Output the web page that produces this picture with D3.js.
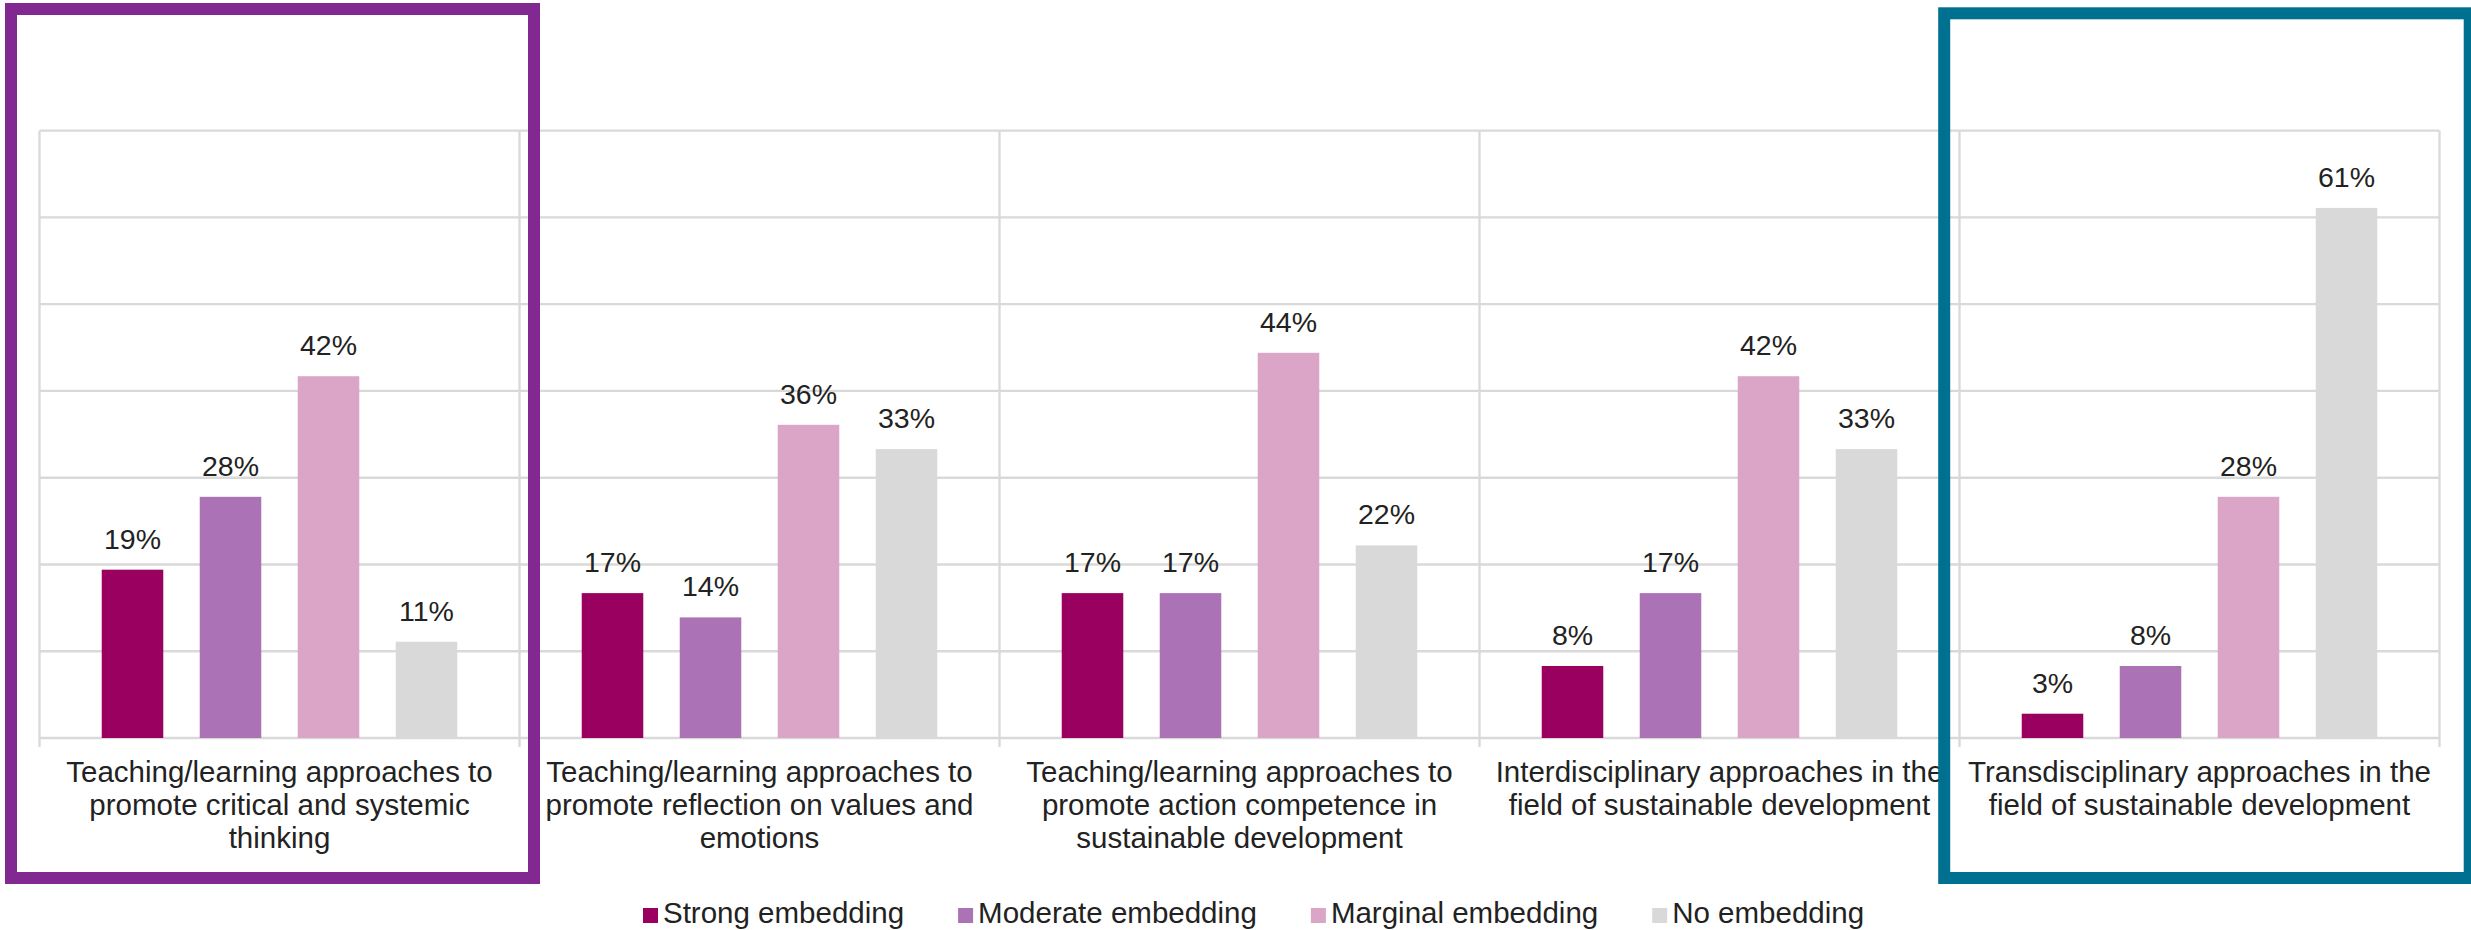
<!DOCTYPE html>
<html>
<head>
<meta charset="utf-8">
<script src="https://cdn.jsdelivr.net/npm/d3@7"></script>
<style>
  body { margin: 0; background: #fff; }
  text { font-family: 'Liberation Sans', Arial, sans-serif; fill: #222; }
</style>
</head>
<body>
<script>
// category labels, already wrapped the way the original shows them
const categories = [
  ['Teaching/learning approaches to', 'promote critical and systemic', 'thinking'],
  ['Teaching/learning approaches to', 'promote reflection on values and', 'emotions'],
  ['Teaching/learning approaches to', 'promote action competence in', 'sustainable development'],
  ['Interdisciplinary approaches in the', 'field of sustainable development'],
  ['Transdisciplinary approaches in the', 'field of sustainable development'],
]

const seriesNames = ['Strong embedding', 'Moderate embedding', 'Marginal embedding', 'No embedding']
const seriesColors = ['#990060', '#ab73b6', '#dba5c7', '#d9d9d9']

// percent of respondents
const strong = [19.4, 16.7, 16.7, 8.3, 2.8]
const moderate = [27.8, 13.9, 16.7, 16.7, 8.3]
const marginal = [41.7, 36.1, 44.4, 41.7, 27.8]
const noEmbedding = [11.1, 33.3, 22.2, 33.3, 61.1]

const yTicks = [0, 10, 20, 30, 40, 50, 60, 70]

const width = 2471
const height = 930
const plot = { left: 39.5, right: 2439.5, top: 130.7, bottom: 738 }

const values = [strong, moderate, marginal, noEmbedding]
const rows = categories.map((c, i) => ({
  idx: i,
  label: c,
  bars: values.map((v, s) => ({ s: s, value: v[i] })),
}))

const svg = d3
  .select('body')
  .append('svg')
  .attr('width', width)
  .attr('height', height)

const x0 = d3.scaleBand()
  .domain(d3.range(categories.length))
  .range([plot.left, plot.right])
  .paddingInner(0)
  .paddingOuter(0)

const x1 = d3.scaleBand()
  .domain(d3.range(seriesNames.length))
  .range([0, x0.bandwidth()])
  .paddingInner(0.372)
  .paddingOuter(0.635)

const y = d3.scaleLinear()
  .domain([0, 70])
  .range([plot.bottom, plot.top])

// horizontal gridlines
svg.append('g')
  .selectAll('line')
  .data(yTicks)
  .enter()
  .append('line')
  .attr('x1', plot.left)
  .attr('x2', plot.right)
  .attr('y1', d => y(d))
  .attr('y2', d => y(d))
  .attr('stroke', '#d9d9d9')
  .attr('stroke-width', 2.3)

// vertical separators between categories (with the little tick below the axis)
const edges = d3.range(categories.length).map(i => x0(i)).concat([x0(categories.length - 1) + x0.bandwidth()])
svg.append('g')
  .selectAll('line')
  .data(edges)
  .enter()
  .append('line')
  .attr('x1', d => d)
  .attr('x2', d => d)
  .attr('y1', y(70))
  .attr('y2', plot.bottom + 9)
  .attr('stroke', '#d9d9d9')
  .attr('stroke-width', 2.3)

const groups = svg.append('g')
  .selectAll('g')
  .data(rows)
  .enter()
  .append('g')
  .attr('transform', d => 'translate(' + x0(d.idx) + ',0)')

groups.selectAll('rect')
  .data(d => d.bars)
  .enter()
  .append('rect')
  .attr('x', d => x1(d.s))
  .attr('width', x1.bandwidth())
  .attr('y', d => y(d.value))
  .attr('height', d => y(0) - y(d.value))
  .attr('fill', d => seriesColors[d.s])

groups.selectAll('text.val')
  .data(d => d.bars)
  .enter()
  .append('text')
  .attr('class', 'val')
  .attr('x', d => x1(d.s) + x1.bandwidth() / 2)
  .attr('y', d => y(d.value) - 21)
  .attr('text-anchor', 'middle')
  .style('font-size', '28.5px')
  .text(d => Math.round(d.value) + '%')

// category labels
groups.append('text')
  .attr('text-anchor', 'middle')
  .style('font-size', '29.5px')
  .selectAll('tspan')
  .data(d => d.label)
  .enter()
  .append('tspan')
  .attr('x', x0.bandwidth() / 2)
  .attr('y', (d, i) => 782 + i * 33)
  .text(d => d)

// highlight frames around the first and last category
svg.append('rect')
  .attr('x', x0(0) - 28.5)
  .attr('y', 9)
  .attr('width', x0.bandwidth() + 43)
  .attr('height', 869)
  .attr('fill', 'none')
  .attr('stroke', '#812990')
  .attr('stroke-width', 12)

svg.append('rect')
  .attr('x', x0(4) - 15.3)
  .attr('y', 13.3)
  .attr('width', x0.bandwidth() + 45.5)
  .attr('height', 864.7)
  .attr('fill', 'none')
  .attr('stroke', '#007090')
  .attr('stroke-width', 12)

// legend
const legend = svg.append('g')
let lx = 643
seriesNames.forEach((name, i) => {
  legend.append('rect')
    .attr('x', lx)
    .attr('y', 908)
    .attr('width', 15)
    .attr('height', 15)
    .attr('fill', seriesColors[i])
  let t = legend.append('text')
    .attr('x', lx + 20)
    .attr('y', 923)
    .style('font-size', '29.5px')
    .text(name)
  lx += 20 + t.node().getComputedTextLength() + 54
})
</script>
</body>
</html>
